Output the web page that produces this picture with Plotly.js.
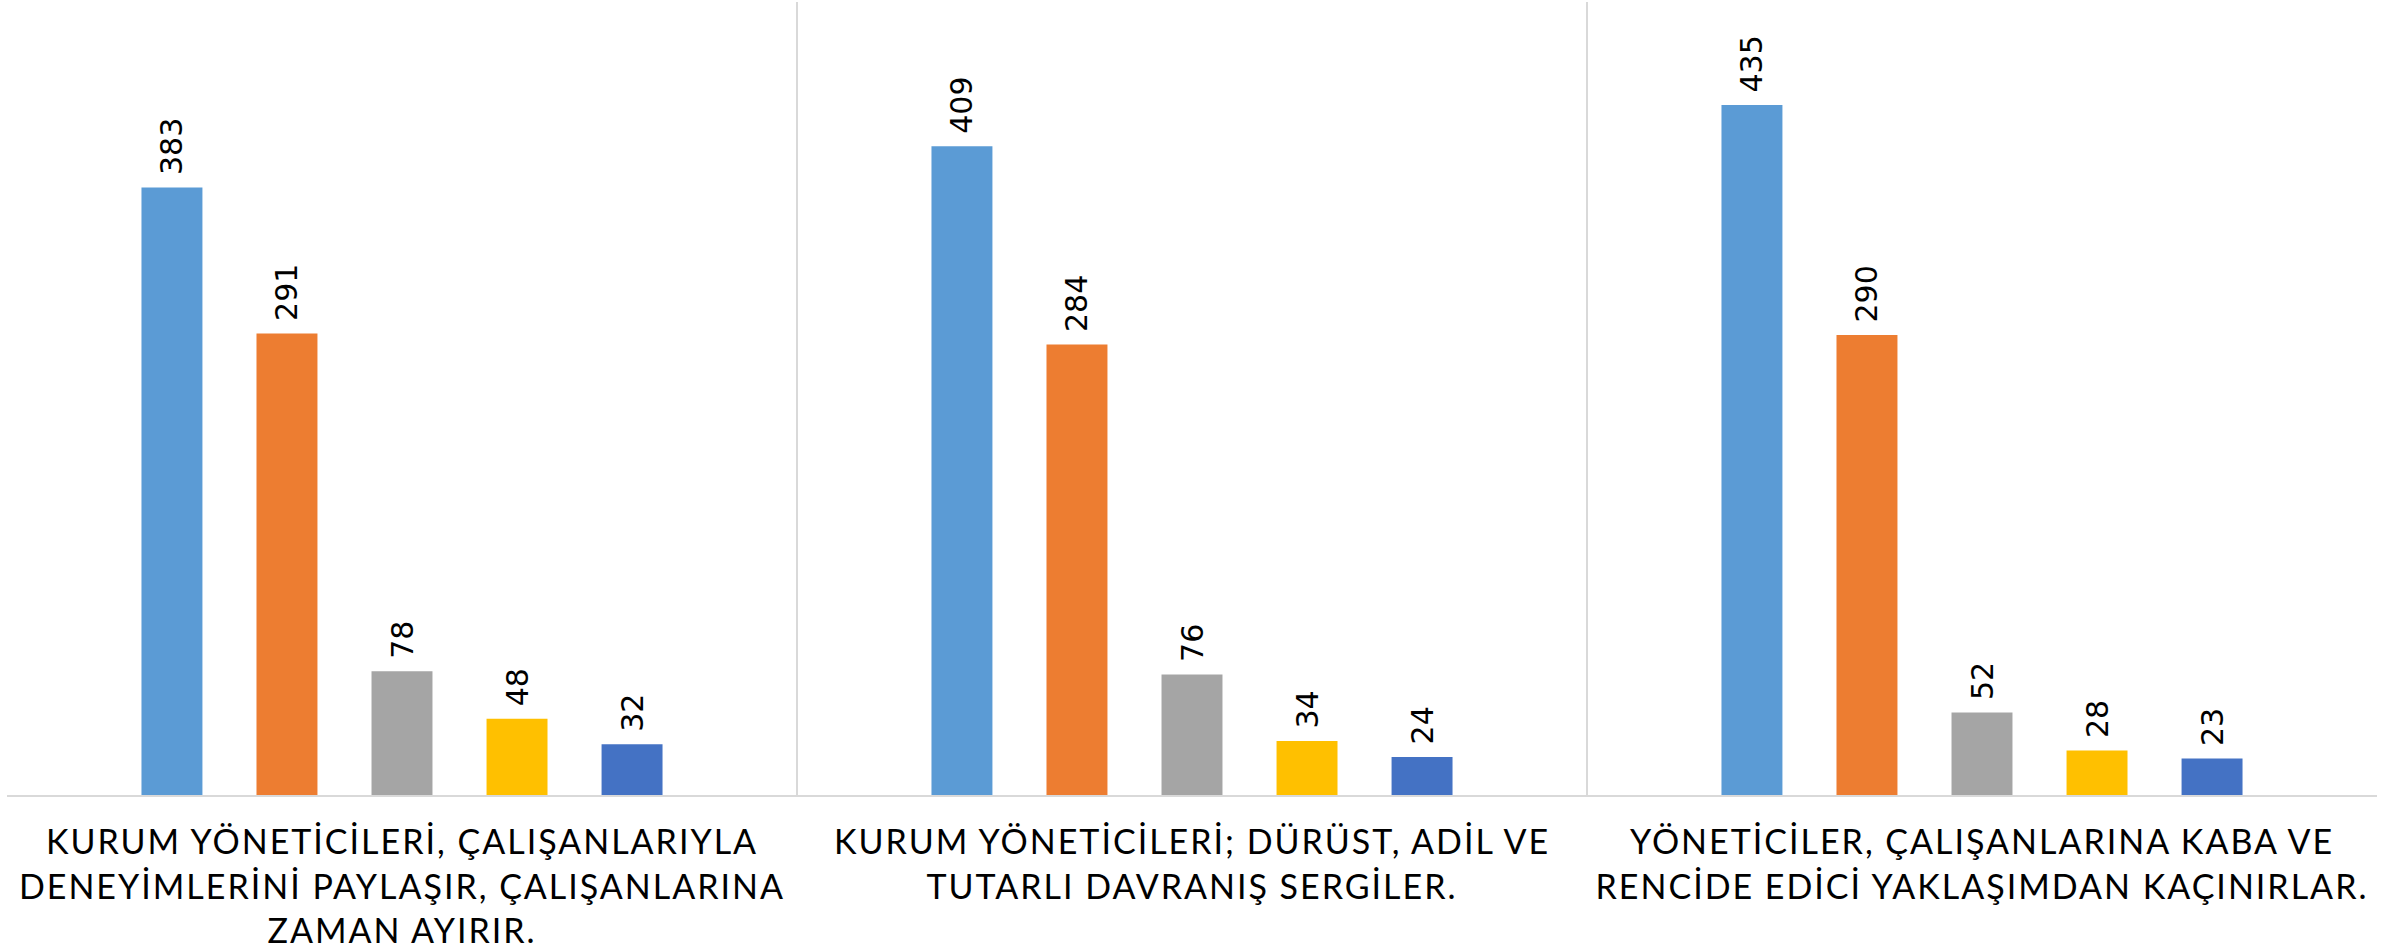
<!DOCTYPE html>
<html>
<head>
<meta charset="utf-8">
<script src="https://cdn.plot.ly/plotly-3.0.1.min.js"></script>
<style>
html, body { margin: 0; padding: 0; background: #fff; }
#chart { width: 2395px; height: 950px; }
.xtick text { letter-spacing: 2px; }
</style>
</head>
<body>
<div id="chart"></div>
<script>
const categories = [
  "KURUM YÖNETİCİLERİ, ÇALIŞANLARIYLA<br>DENEYİMLERİNİ PAYLAŞIR, ÇALIŞANLARINA<br>ZAMAN AYIRIR.",
  "KURUM YÖNETİCİLERİ; DÜRÜST, ADİL VE<br>TUTARLI DAVRANIŞ SERGİLER.",
  "YÖNETİCİLER, ÇALIŞANLARINA KABA VE<br>RENCİDE EDİCİ YAKLAŞIMDAN KAÇINIRLAR."
];
const seriesNames = ["Kesinlikle Katılıyorum", "Katılıyorum", "Kararsızım", "Katılmıyorum", "Kesinlikle Katılmıyorum"];
const s1 = [383, 409, 435];
const s2 = [291, 284, 290];
const s3 = [78, 76, 52];
const s4 = [48, 34, 28];
const s5 = [32, 24, 23];
const colors = ["#5B9BD5", "#ED7D31", "#A5A5A5", "#FFC000", "#4472C4"];

const seriesValues = [s1, s2, s3, s4, s5];
const traces = seriesValues.map((vals, i) => ({
  type: "bar",
  name: seriesNames[i],
  x: categories,
  y: vals,
  marker: { color: colors[i], line: { width: 0 } },
  text: vals.map(v => "\u00a0" + v),
  texttemplate: "%{text}",
  textposition: "outside",
  textangle: -90,
  cliponaxis: false,
  constraintext: "none",
  outsidetextfont: { family: "DejaVu Sans, Verdana, sans-serif", size: 30, color: "#000" },
  hoverinfo: "x+y+name",
  showlegend: false
}));

const layout = {
  width: 2395,
  height: 950,
  margin: { l: 7, r: 18, t: 2, b: 155 },
  paper_bgcolor: "#fff",
  plot_bgcolor: "#fff",
  barmode: "group",
  bargap: 0.272,
  bargroupgap: 0.47,
  showlegend: false,
  font: { family: "Lato, Open Sans, sans-serif", color: "#000" },
  xaxis: {
    type: "category",
    tickson: "boundaries",
    showgrid: true,
    gridcolor: "#D9D9D9",
    gridwidth: 1.5,
    showline: true,
    linecolor: "#D9D9D9",
    linewidth: 1.5,
    ticks: "",
    ticklabelstandoff: 17,
    tickfont: { family: "Lato, Open Sans, sans-serif", size: 34, color: "#000" },
    tickangle: 0,
    automargin: false,
    fixedrange: true
  },
  yaxis: {
    range: [0, 500],
    showgrid: false,
    zeroline: false,
    showline: false,
    showticklabels: false,
    ticks: "",
    fixedrange: true
  }
};

Plotly.newPlot("chart", traces, layout, { displayModeBar: false, staticPlot: true });
</script>
</body>
</html>
